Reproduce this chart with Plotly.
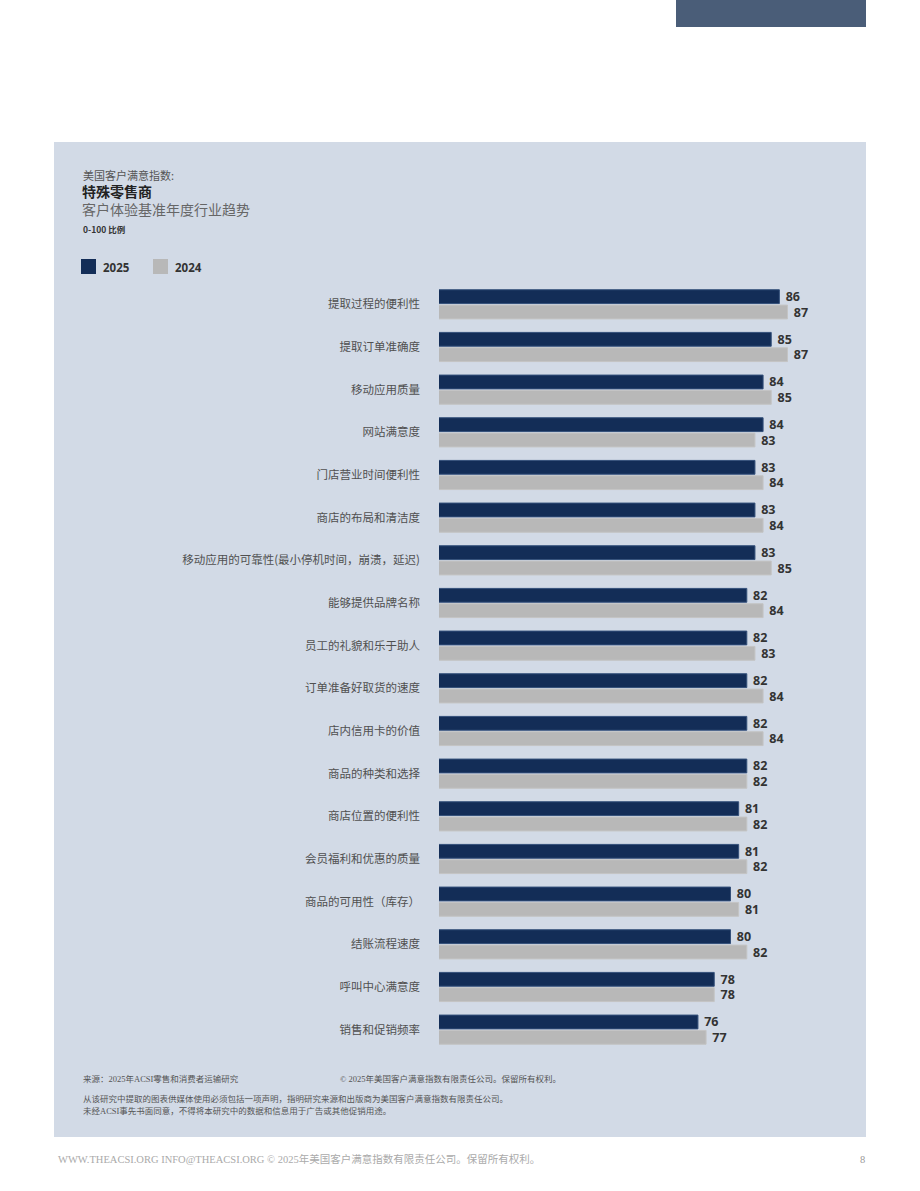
import plotly.graph_objects as go

categories = [
    "提取过程的便利性",
    "提取订单准确度",
    "移动应用质量",
    "网站满意度",
    "门店营业时间便利性",
    "商店的布局和清洁度",
    "移动应用的可靠性(最小停机时间，崩溃，延迟)",
    "能够提供品牌名称",
    "员工的礼貌和乐于助人",
    "订单准备好取货的速度",
    "店内信用卡的价值",
    "商品的种类和选择",
    "商店位置的便利性",
    "会员福利和优惠的质量",
    "商品的可用性（库存）",
    "结账流程速度",
    "呼叫中心满意度",
    "销售和促销频率",
]
values_2025 = [86, 85, 84, 84, 83, 83, 83, 82, 82, 82, 82, 82, 81, 81, 80, 80, 78, 76]
values_2024 = [87, 87, 85, 83, 84, 84, 85, 84, 83, 84, 84, 82, 82, 82, 81, 82, 78, 77]

W, H = 920, 1191
ML, MR, MT, MB = 439, 25, 283, 140
PW, PH = W - ML - MR, H - MT - MB

def px(x):
    return (x - ML) / PW

def py(y):
    return 1 - (y - MT) / PH

NAVY = "#132d57"
GRAY = "#b8b8b8"
PANEL = "#d2dae6"

fig = go.Figure()
fig.add_trace(go.Bar(
    y=categories, x=values_2025, orientation="h", name="2025",
    marker=dict(color=NAVY, line=dict(color="#34507a", width=1)),
    text=values_2025, texttemplate="\u00a0<b>%{x}</b>", textposition="outside",
    constraintext="none",
    textfont=dict(family="Open Sans, Noto Sans", size=12.5, color="#333333"),
    cliponaxis=False, hoverinfo="skip",
))
fig.add_trace(go.Bar(
    y=categories, x=values_2024, orientation="h", name="2024",
    marker=dict(color=GRAY, line=dict(color="#c4c4c4", width=1)),
    text=values_2024, texttemplate="\u00a0<b>%{x}</b>", textposition="outside",
    constraintext="none",
    textfont=dict(family="Open Sans, Noto Sans", size=12.5, color="#333333"),
    cliponaxis=False, hoverinfo="skip",
))

shapes = [
    dict(type="rect", xref="paper", yref="paper", x0=px(54), x1=px(866), y0=py(142), y1=py(1137),
         fillcolor=PANEL, line=dict(width=0), layer="below"),
    dict(type="rect", xref="paper", yref="paper", x0=px(676), x1=px(866), y0=py(0), y1=py(27),
         fillcolor="#4a5d78", line=dict(width=0), layer="below"),
    dict(type="rect", xref="paper", yref="paper", x0=px(81), x1=px(96), y0=py(259), y1=py(274),
         fillcolor=NAVY, line=dict(width=0)),
    dict(type="rect", xref="paper", yref="paper", x0=px(153), x1=px(168), y0=py(259), y1=py(274),
         fillcolor=GRAY, line=dict(width=0)),
]

CJK = "Noto Sans CJK SC"
SERIF = "Liberation Serif, DejaVu Serif, Noto Sans CJK SC"

def ann(text, x, y, size, color, family=CJK, xanchor="left"):
    return dict(text=text, xref="paper", yref="paper", x=px(x), y=py(y), xanchor=xanchor,
                yanchor="middle", showarrow=False, font=dict(family=family, size=size, color=color))

annotations = [
    ann("美国客户满意指数:", 81, 175, 11, "#555555"),
    ann("<b>特殊零售商</b>", 80, 191, 14, "#222222"),
    ann("客户体验基准年度行业趋势", 80, 209, 14, "#666666"),
    ann("<b>0-100 比例</b>", 81, 229, 8.5, "#333333"),
    ann("<b>2025</b>", 101, 267, 11.5, "#333333", family="Open Sans, Noto Sans"),
    ann("<b>2024</b>", 173, 267, 11.5, "#333333", family="Open Sans, Noto Sans"),
    ann("来源：2025年ACSI零售和消费者运输研究", 81, 1079, 8.5, "#555555", family=SERIF),
    ann("© 2025年美国客户满意指数有限责任公司。保留所有权利。", 338, 1079, 8.5, "#555555", family=SERIF),
    ann("从该研究中提取的图表供媒体使用必须包括一项声明，指明研究来源和出版商为美国客户满意指数有限责任公司。",
        81, 1099, 8.5, "#555555", family=SERIF),
    ann("未经ACSI事先书面同意，不得将本研究中的数据和信息用于广告或其他促销用途。",
        81, 1111, 8.5, "#555555", family=SERIF),
    ann("WWW.THEACSI.ORG INFO@THEACSI.ORG © 2025年美国客户满意指数有限责任公司。保留所有权利。",
        56, 1159, 10.5, "#aaaaaa", family=SERIF),
    ann("8", 862, 1159, 10.5, "#999999", family=SERIF, xanchor="center"),
]

fig.update_layout(
    width=W, height=H,
    margin=dict(l=ML, r=MR, t=MT, b=MB),
    paper_bgcolor="white", plot_bgcolor="rgba(0,0,0,0)",
    barmode="group", bargap=0.28, bargroupgap=0.1,
    showlegend=False,
    shapes=shapes, annotations=annotations,
    xaxis=dict(range=[44.2, 100.2], visible=False, fixedrange=True),
    yaxis=dict(autorange="reversed", showgrid=False, zeroline=False, showline=False,
               ticks="", ticklabelstandoff=18,
               tickfont=dict(family=CJK, size=11.5, color="#505050"), fixedrange=True),
)

fig.write_html("out.html")
